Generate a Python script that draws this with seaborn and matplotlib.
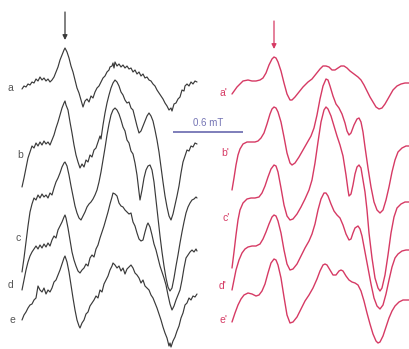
import matplotlib
matplotlib.use("Agg")
import matplotlib.pyplot as plt
import seaborn as sns
import pandas as pd

# ---------------- data: (field position, intensity) ----------------
# experimental spectra (black)
exp_a = [(22,-9),(24,-6),(26,-7),(28,-4),(30,-5),(32,-2),(34,-3),(36,1),(38,-1),(40,3),(42,0),(44,2),
         (46,-1),(48,1),(50,-2),(52,0),(54,3),(56,8),(58,13),(60,20),(62,25),(64,30),(65,32),(67,28),
         (69,22),(71,14),(73,8),(75,0),(77,-8),(79,-13),(81,-20),(83,-27),(85,-21),(87,-19),(89,-22),
         (91,-16),(93,-18),(95,-12),(97,-8),(99,-6),(101,-2),(103,2),(105,4),(107,8),(109,10),(110,13),
         (112,14),(113,17),(114,12),(115,18),(117,14),(119,16),(121,13),(123,15),(125,12),(127,14),
         (129,11),(131,12),(133,8),(135,10),(137,6),(139,8),(141,4),(143,6),(145,2),(147,3),(149,0),
         (151,-1),(153,-4),(155,-6),(157,-10),(159,-13),(161,-16),(163,-19),(165,-23),(167,-26),
         (169,-30),(171,-28),(172,-31),(174,-24),(176,-23),(178,-19),(180,-17),(182,-10),(184,-11),
         (185,-6),(187,-4),(189,-6),(191,-2),(193,-4),(195,-1),(197,-2)]
exp_b = [(22,-42),(24,-33),(26,-23),(28,-13),(30,-7),(32,-1),(34,-3),(36,2),(38,-1),(40,3),(42,0),
         (44,4),(46,1),(48,3),(50,0),(52,5),(54,10),(56,17),(58,23),(60,30),(62,37),(64,42),(65,44),
         (66,40),(68,35),(70,23),(72,12),(74,0),(76,-10),(78,-17),(80,-23),(82,-19),(84,-22),(86,-15),
         (88,-17),(90,-10),(92,-12),(94,-5),(96,-3),(98,3),(100,9),(101,6),(103,20),(105,32),(107,42),
         (109,50),(111,57),(113,62),(115,65),(117,63),(119,59),(121,53),(123,50),(125,45),(127,42),
         (129,43),(131,37),(133,35),(135,27),(137,19),(139,12),(141,14),(143,19),(145,24),(147,29),
         (149,32),(151,29),(153,24),(155,15),(157,5),(159,-7),(161,-22),(163,-37),(165,-51),(167,-62),
         (169,-71),(171,-75),(173,-69),(175,-60),(177,-51),(179,-41),(181,-28),(183,-17),(185,-11),
         (187,-5),(189,-6),(191,-1),(193,-2),(195,2),(197,1)]
exp_c = [(22,-75),(24,-61),(26,-45),(28,-29),(30,-15),(32,-7),(34,-1),(36,-3),(38,2),(40,-1),(42,3),
         (44,0),(46,2),(48,-1),(50,4),(52,2),(54,9),(56,15),(58,19),(60,24),(62,30),(64,34),(65,35),
         (67,31),(69,22),(71,11),(73,1),(75,-9),(77,-16),(79,-21),(81,-23),(83,-19),(85,-15),(87,-10),
         (89,-7),(91,-5),(93,-2),(95,2),(97,7),(99,15),(101,25),(103,37),(105,49),(107,62),(109,73),
         (111,82),(113,87),(115,89),(117,87),(119,83),(121,77),(123,70),(125,66),(127,57),(129,54),
         (131,46),(133,43),(135,34),(137,22),(139,5),(140,-3),(142,7),(144,19),(146,27),(148,31),
         (150,32),(152,27),(154,15),(156,-3),(158,-21),(160,-39),(162,-55),(164,-69),(166,-81),
         (168,-90),(170,-94),(172,-91),(174,-81),(176,-69),(178,-58),(180,-46),(182,-35),(184,-25),
         (186,-16),(188,-10),(190,-6),(192,-3),(194,-2),(196,0),(197,-1)]
exp_d = [(22,-42),(24,-32),(26,-22),(28,-14),(30,-8),(32,-4),(34,-1),(36,2),(38,-1),(40,3),(42,0),
         (44,4),(46,1),(48,5),(50,2),(52,8),(54,12),(56,10),(58,18),(60,22),(62,26),(64,31),(65,33),
         (66,30),(68,20),(70,8),(72,-4),(74,-12),(76,-18),(78,-23),(80,-25),(82,-22),(84,-20),(86,-16),
         (88,-18),(90,-10),(92,-7),(94,-9),(96,-1),(98,3),(100,10),(102,16),(104,22),(106,29),(108,36),
         (110,44),(112,51),(113,55),(115,54),(117,52),(119,45),(121,42),(123,41),(125,38),(127,36),
         (129,34),(131,35),(133,26),(135,22),(137,15),(139,9),(141,7),(143,8),(145,16),(147,23),
         (148,25),(150,21),(152,13),(154,4),(156,-2),(158,-10),(160,-18),(162,-24),(164,-30),(166,-37),
         (168,-47),(170,-56),(172,-62),(174,-58),(176,-52),(178,-47),(180,-42),(182,-32),(184,-20),
         (186,-10),(188,-7),(190,-4),(192,-2),(194,-4),(196,-1),(197,-3)]
exp_e = [(22,-29),(24,-24),(26,-21),(28,-17),(30,-14),(32,-13),(34,-9),(36,-7),(38,5),(40,1),(42,-1),
         (44,3),(46,-3),(48,1),(50,-1),(52,3),(54,9),(56,11),(58,16),(60,21),(62,27),(64,33),(65,35),
         (67,29),(69,19),(71,6),(73,-7),(75,-19),(77,-29),(79,-35),(80,-37),(82,-32),(84,-29),(86,-23),
         (88,-21),(90,-15),(92,-12),(94,-9),(96,-5),(98,-7),(100,1),(102,-1),(104,7),(106,11),(108,15),
         (110,21),(112,25),(113,28),(115,26),(117,23),(119,25),(121,20),(123,23),(125,17),(127,22),
         (129,24),(131,26),(133,23),(135,18),(137,16),(139,13),(141,8),(143,11),(145,5),(147,3),
         (149,1),(151,-4),(153,-7),(155,-12),(157,-17),(159,-23),(161,-29),(163,-36),(165,-42),
         (167,-47),(169,-55),(170,-52),(171,-56),(173,-50),(175,-46),(177,-40),(179,-35),(181,-27),
         (183,-22),(185,-14),(187,-12),(189,-7),(191,-9),(193,-5),(195,-6),(197,-3)]

# simulated spectra (red)
sim_a = [(232,-14),(237,-7),(243,-1),(248,0),(252,-1),(256,-1),(260,0),(263,2),(266,7),(269,15),
         (272,21),(274,23),(276,22),(278,18),(281,9),(284,-3),(287,-14),(290,-20),(292,-20),(295,-17),
         (299,-12),(303,-7),(308,-2),(312,1),(316,6),(320,11),(323,14),(326,14),(329,13),(332,10),
         (335,10),(338,12),(341,14),(344,14),(347,12),(350,9),(354,6),(358,3),(361,0),(364,-5),
         (367,-11),(370,-17),(373,-22),(376,-27),(379,-29),(382,-28),(385,-24),(389,-17),(393,-10),
         (397,-6),(401,-4),(405,-3),(409,-3)]
sim_b = [(232,-48),(234,-36),(236,-23),(238,-13),(240,-7),(243,-2),(247,0),(251,0),(255,0),(258,1),
         (261,4),(264,9),(267,18),(270,28),(272,33),(274,35),(276,34),(278,30),(281,20),(284,5),
         (287,-11),(290,-21),(292,-23),(295,-21),(299,-15),(303,-8),(307,-1),(311,6),(314,14),(317,27),
         (320,43),(323,56),(326,63),(328,62),(330,56),(333,46),(336,38),(339,34),(342,28),(345,19),
         (347,11),(349,7),(351,9),(354,17),(357,23),(359,24),(361,20),(363,10),(365,-5),(368,-26),
         (371,-45),(374,-60),(377,-68),(380,-71),(383,-68),(386,-58),(389,-45),(392,-30),(395,-18),
         (398,-10),(402,-6),(406,-4),(409,-4)]
sim_c = [(232,-70),(234,-54),(236,-37),(238,-22),(240,-12),(243,-5),(247,-1),(251,0),(255,0),(259,1),
         (262,5),(265,12),(268,21),(271,29),(274,33),(276,32),(278,26),(281,10),(284,-7),(287,-18),
         (290,-22),(293,-21),(297,-16),(301,-9),(305,-1),(309,8),(312,18),(315,35),(318,56),(321,76),
         (324,88),(326,91),(328,89),(331,82),(334,72),(337,62),(340,53),(343,42),(346,23),(348,8),
         (349,2),(351,4),(353,13),(355,24),(357,31),(359,33),(361,30),(363,18),(365,6),(367,-12),
         (369,-35),(372,-60),(375,-80),(378,-90),(380,-93),(382,-90),(385,-77),(388,-57),(391,-35),
         (394,-19),(397,-10),(401,-6),(405,-4),(409,-4)]
sim_d = [(232,-43),(234,-33),(236,-23),(239,-13),(242,-6),(245,-2),(248,0),(252,1),(256,1),(260,3),
         (263,8),(266,15),(269,23),(272,30),(274,32),(276,31),(278,26),(281,14),(284,-3),(287,-17),
         (290,-23),(293,-22),(297,-17),(301,-9),(305,-1),(309,6),(312,13),(315,23),(318,37),(321,48),
         (324,54),(326,54),(328,51),(331,43),(334,36),(337,32),(340,29),(343,22),(346,13),(349,7),
         (351,8),(353,14),(355,19),(358,21),(360,18),(362,11),(365,-5),(368,-21),(371,-37),(374,-51),
         (377,-59),(380,-62),(383,-58),(386,-47),(389,-33),(392,-20),(395,-11),(398,-7),(402,-4),
         (406,-3),(409,-3)]
sim_e = [(232,-27),(235,-18),(238,-10),(241,-4),(244,0),(248,2),(252,1),(256,-1),(259,0),(262,4),
         (265,11),(268,22),(271,32),(274,36),(276,35),(278,30),(281,17),(284,-2),(287,-20),(290,-28),
         (293,-27),(297,-22),(301,-14),(305,-6),(309,0),(313,7),(317,16),(320,24),(323,30),(325,31),
         (327,30),(330,25),(333,20),(336,20),(339,24),(341,25),(343,24),(346,19),(349,15),(352,13),
         (355,12),(358,10),(361,4),(364,-6),(367,-18),(370,-29),(373,-39),(376,-46),(378,-48),
         (380,-47),(383,-41),(386,-32),(389,-23),(392,-16),(395,-11),(399,-7),(403,-5),(407,-5),(409,-5)]

exp_labels = ["a", "b", "c", "d", "e"]
sim_labels = ["a'", "b'", "c'", "d'", "e'"]
scale_label = "0.6 mT"

# ---------------- layout ----------------
exp_traces = [exp_a, exp_b, exp_c, exp_d, exp_e]
sim_traces = [sim_a, sim_b, sim_c, sim_d, sim_e]
exp_offsets = [80, 145, 197, 248, 291]
sim_offsets = [80, 142, 198, 247, 295]
exp_label_pos = [(10, 88), (20, 155), (18, 238), (11, 285), (12, 320)]
sim_label_pos = [(223, 93), (225, 153), (226, 218), (223, 286), (223, 320)]

BLACK = "#3a3a3a"
RED = "#d63a64"
BLUE = "#7474b4"

sns.set_theme(style="white")
plt.rcParams["font.family"] = ["Liberation Sans", "DejaVu Sans"]

fig = plt.figure(figsize=(4.09, 3.49), dpi=100)
ax = fig.add_axes([0, 0, 1, 1])

def draw(traces, offsets, color, lw):
    for tr, off in zip(traces, offsets):
        df = pd.DataFrame(tr, columns=["field", "intensity"])
        df["y"] = off - df["intensity"]
        sns.lineplot(data=df, x="field", y="y", ax=ax, color=color, linewidth=lw,
                     sort=False, estimator=None, legend=False)

draw(exp_traces, exp_offsets, BLACK, 0.85)
draw(sim_traces, sim_offsets, RED, 1.0)

for lab, (x, y) in zip(exp_labels, exp_label_pos):
    ax.text(x, y, lab, fontsize=7.5, color="#555555", ha="center", va="center")
for lab, (x, y) in zip(sim_labels, sim_label_pos):
    ax.text(x, y, lab, fontsize=7.5, color=RED, ha="center", va="center")

# arrows over the first peak of a and a'
for tr, off, col in [(exp_a, exp_offsets[0], BLACK), (sim_a, sim_offsets[0], RED)]:
    px, pv = max(tr, key=lambda t: t[1] if t[0] < 300 and t[0] < 100 or (t[0] > 200 and t[0] < 290) else -999)
    ytop = off - pv
    ax.annotate("", xy=(px, ytop - 8), xytext=(px, ytop - 36),
                arrowprops=dict(arrowstyle="-|>", color=col, lw=0.9, mutation_scale=7,
                                shrinkA=0, shrinkB=0))

# scale bar
ax.plot([173, 243], [132, 132], color=BLUE, lw=1.3, solid_capstyle="butt")
ax.text(208, 123, scale_label, fontsize=7, color=BLUE, ha="center", va="center")

ax.set_xlim(0, 409)
ax.set_ylim(349, 0)
ax.axis("off")
fig.savefig("out.png", dpi=100)
